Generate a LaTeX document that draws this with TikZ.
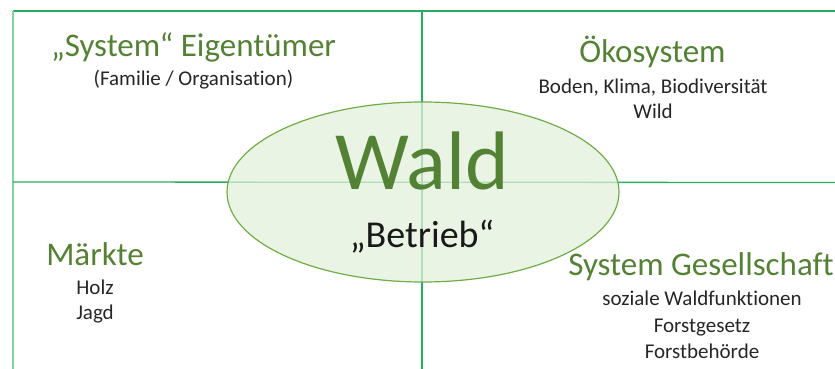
\documentclass[tikz,border=0pt]{standalone}
\usepackage{fontspec}
\setmainfont[Ligatures=NoCommon]{Carlito}
\definecolor{gridgreen}{RGB}{40,172,96}
\definecolor{gridlight}{RGB}{130,214,162}
\definecolor{titlegreen}{RGB}{84,130,53}
\definecolor{ellfill}{RGB}{226,240,217}
\definecolor{ellline}{RGB}{112,173,71}
\definecolor{bodytext}{RGB}{38,38,38}
\tikzset{
  gridline/.style={draw=gridgreen, line width=1.3pt},
  gridlinelight/.style={draw=gridlight, line width=1.5pt},
  titletext/.style={anchor=base, text=titlegreen, font=\fontsize{33}{38}\selectfont, inner sep=0pt},
  bodyline/.style={anchor=base, text=bodytext, font=\fontsize{21}{24}\selectfont, inner sep=0pt},
  centreell/.style={ellipse, draw=ellline, line width=1.2pt, fill=ellfill, fill opacity=0.72, minimum width=392pt, minimum height=180pt, inner sep=0pt},
}
\usetikzlibrary{shapes.geometric}
\begin{document}
\begin{tikzpicture}[x=1pt,y=-1pt]
\useasboundingbox (0,0) rectangle (835,369);
% grid coordinates
\coordinate (tl) at (13,11);
\coordinate (tr) at (835,11);
\coordinate (bl) at (13,369);
\coordinate (vt) at (422,11);
\coordinate (vb) at (422,369);
\coordinate (hl) at (13,182);
\coordinate (hr) at (835,182.5);
% grid lines
\draw[gridline] (tl) -- (tr);
\draw[gridlinelight] (tl) -- (bl);
\draw[gridline] (vt) -- (vb);
\draw[gridline] (hl) -- (hr);
% central ellipse
\node[centreell] (ell) at (423,192) {};
% central texts
\node[anchor=base, text=titlegreen, font=\fontsize{83}{90}\selectfont, inner sep=0pt] (wald) at (422,189) {Wald};
\node[anchor=base, text=black!90, font=\fontsize{38}{42}\selectfont, inner sep=0pt] (betrieb) at (422,247) {„Betrieb“};
% top left
\node[titletext] (eig) at (193.5,57) {„System“ Eigentümer};
\node[bodyline] (fam) at (193.5,85) {(Familie / Organisation)};
% top right
\node[titletext] (oeko) at (652.5,63) {Ökosystem};
\node[bodyline] (boden) at (653,93) {Boden, Klima, Biodiversität};
\node[bodyline] (wild) at (653,118) {Wild};
% bottom left
\node[titletext] (maerkte) at (95,265) {Märkte};
\node[bodyline] (holz) at (95,294) {Holz};
\node[bodyline] (jagd) at (95,319) {Jagd};
% bottom right
\node[titletext] (ges) at (701,275) {System Gesellschaft};
\node[bodyline] (sozial) at (702,305) {soziale Waldfunktionen};
\node[bodyline] (gesetz) at (702,332) {Forstgesetz};
\node[bodyline] (behoerde) at (702,358) {Forstbehörde};
\end{tikzpicture}
\end{document}
